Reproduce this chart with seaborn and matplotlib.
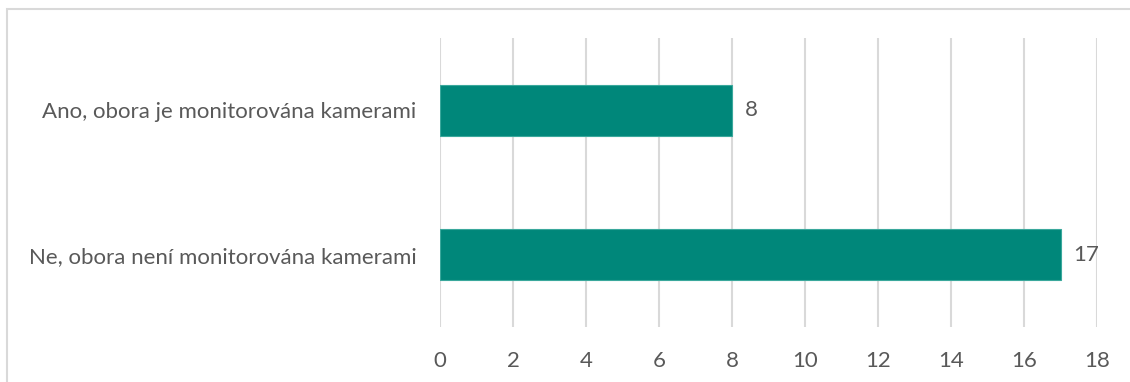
import matplotlib
matplotlib.use("Agg")
import matplotlib.pyplot as plt
import seaborn as sns
import pandas as pd
from matplotlib.patches import Rectangle

categories = ["Ano, obora je monitorována kamerami", "Ne, obora není monitorována kamerami"]
counts = [8, 17]
xticks = [0, 2, 4, 6, 8, 10, 12, 14, 16, 18]

sns.set_style("white")
plt.rcParams["font.family"] = ["Lato", "DejaVu Sans"]
text_col = "#595959"
fs = 16

df = pd.DataFrame({"odpoved": categories, "pocet": counts})

fig = plt.figure(figsize=(11.3, 3.82), dpi=100)
ax = fig.add_axes([440 / 1130, 1 - 327 / 382, 657 / 1130, 289 / 382])

sns.barplot(data=df, x="pocet", y="odpoved", orient="h", color="#00877A",
            saturation=1, width=0.355, edgecolor="#3aa89c", linewidth=0.8,
            ax=ax, zorder=3)

ax.set_xlim(0, 18)
ax.set_xticks(xticks)
ax.set_xlabel("")
ax.set_ylabel("")
ax.grid(axis="x", color="#d9d9d9", linewidth=1.5, zorder=0)
ax.set_axisbelow(True)
for s in ax.spines.values():
    s.set_visible(False)
ax.tick_params(axis="x", length=0, pad=17, labelsize=fs, labelcolor=text_col)
ax.tick_params(axis="y", length=0, pad=17, labelsize=fs, labelcolor=text_col)

for c in ax.containers:
    ax.bar_label(c, padding=9, fontsize=fs, color=text_col)

# outer chart border (cut off at right/bottom)
fig.patches.append(Rectangle((7 / 1130, -0.1), 1.2, 1 - 9 / 382 + 0.1,
                             transform=fig.transFigure, fill=False,
                             edgecolor="#d9d9d9", linewidth=1.5))

fig.savefig("out.png", dpi=100)
